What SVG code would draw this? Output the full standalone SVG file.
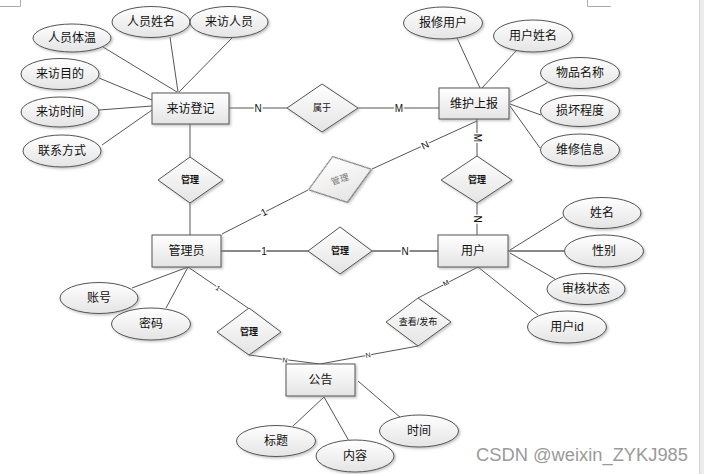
<svg xmlns="http://www.w3.org/2000/svg" width="704" height="474" viewBox="0 0 704 474">
<defs>
<linearGradient id="g" x1="0" y1="0" x2="0" y2="1">
<stop offset="0" stop-color="#ffffff"/>
<stop offset="1" stop-color="#e4e4e4"/>
</linearGradient>
<filter id="sh" x="-20%" y="-20%" width="150%" height="160%">
<feDropShadow dx="1.5" dy="1.5" stdDeviation="0.8" flood-color="#888" flood-opacity="0.5"/>
</filter>
</defs>
<style>
.n{fill:url(#g);stroke:#555;stroke-width:1;filter:url(#sh)}
.t{font-family:"Liberation Sans","Noto Sans CJK SC",sans-serif;font-size:12px;fill:#111;text-anchor:middle;dominant-baseline:central}
.d{font-family:"Liberation Sans","Noto Sans CJK SC",sans-serif;font-size:9px;font-weight:bold;fill:#111;text-anchor:middle;dominant-baseline:central}
.l{font-family:"Liberation Sans",sans-serif;font-size:10px;fill:#111;text-anchor:middle;dominant-baseline:central}
.s{font-family:"Liberation Sans",sans-serif;font-size:7px;fill:#111;text-anchor:middle;dominant-baseline:central}
.c line{stroke:#555;stroke-width:1}
.c line.k{stroke:#888;stroke-width:1.8}
</style>
<rect width="704" height="474" fill="#fff"/>
<rect x="700" y="0" width="4" height="474" fill="#ececec"/>
<line x1="699.5" y1="0" x2="699.5" y2="474" stroke="#d4d4d4"/>
<path d="M0 6.5H20.5V0M587.5 0V6.5H611" fill="none" stroke="#aaa"/>

<g id="connectors" class="c">
<line x1="103" y1="47" x2="177" y2="92"/>
<line x1="170" y1="37" x2="178" y2="92"/>
<line x1="232" y1="38" x2="179" y2="92"/>
<line x1="99" y1="78" x2="152" y2="100"/>
<line x1="99" y1="110" x2="152" y2="106"/>
<line x1="102" y1="145" x2="152" y2="110"/>
<line x1="229" y1="108" x2="287" y2="108"/>
<line x1="358" y1="108" x2="439" y2="108"/>
<line x1="190" y1="124" x2="190" y2="157"/>
<line x1="457" y1="38" x2="480" y2="88"/>
<line x1="516" y1="51" x2="482" y2="88"/>
<line x1="547" y1="83" x2="510" y2="102"/>
<line x1="541" y1="115" x2="510" y2="104"/>
<line x1="540" y1="148" x2="510" y2="106"/>
<line x1="477" y1="119" x2="477" y2="156"/>
<line x1="477" y1="121" x2="372" y2="169"/>
<line x1="222" y1="234" x2="308" y2="190"/>
<line x1="190" y1="203" x2="190" y2="235"/>
<line class="k" x1="221" y1="251" x2="308" y2="251"/>
<line class="k" x1="372" y1="251" x2="438" y2="251"/>
<line x1="477" y1="203" x2="477" y2="235"/>
<line x1="563" y1="217" x2="510" y2="250"/>
<line class="k" x1="564" y1="251" x2="508" y2="251"/>
<line x1="555" y1="279" x2="510" y2="253"/>
<line x1="538" y1="315" x2="478" y2="267"/>
<line x1="478" y1="267" x2="418" y2="298"/>
<line x1="418" y1="346" x2="320" y2="364"/>
<line x1="132" y1="288" x2="188" y2="267"/>
<line x1="166" y1="308" x2="188" y2="267"/>
<line x1="188" y1="267" x2="248" y2="308"/>
<line x1="249" y1="355" x2="320" y2="364"/>
<line x1="293" y1="426" x2="324" y2="397"/>
<line x1="349" y1="441" x2="324" y2="397"/>
<line x1="401" y1="418" x2="358" y2="381"/>
</g>

<g id="labels">
<text class="l" x="258" y="108" stroke="#fff" stroke-width="3" paint-order="stroke">N</text>
<text class="l" x="399" y="108" stroke="#fff" stroke-width="3" paint-order="stroke">M</text>
<text class="l" x="477" y="138" transform="rotate(90 477 138)" stroke="#fff" stroke-width="3" paint-order="stroke">M</text>
<text class="l" x="425" y="145" transform="rotate(-25 425 145)" stroke="#fff" stroke-width="3" paint-order="stroke">N</text>
<text class="l" x="264" y="212" transform="rotate(-27 264 212)" stroke="#fff" stroke-width="3" paint-order="stroke">1</text>
<text class="l" x="264" y="251" stroke="#fff" stroke-width="3" paint-order="stroke">1</text>
<text class="l" x="405" y="251" stroke="#fff" stroke-width="3" paint-order="stroke">N</text>
<text class="l" x="477" y="219" transform="rotate(90 477 219)" stroke="#fff" stroke-width="3" paint-order="stroke">N</text>
<text class="s" x="218" y="288" transform="rotate(34 218 288)" stroke="#fff" stroke-width="2" paint-order="stroke">1</text>
<text class="s" x="446" y="283" transform="rotate(-27 446 283)" stroke="#fff" stroke-width="2" paint-order="stroke">M</text>
<text class="s" x="368" y="355" transform="rotate(-10 368 355)" stroke="#fff" stroke-width="2" paint-order="stroke">N</text>
<text class="s" x="285" y="360" transform="rotate(7 285 360)" stroke="#fff" stroke-width="2" paint-order="stroke">N</text>
</g>

<g id="laifangdengji"><rect class="n" x="152" y="93" width="77" height="31"/><text class="t" x="190.5" y="108.5">来访登记</text></g>
<g id="renyuantiwen"><ellipse class="n" cx="72" cy="38" rx="39" ry="14"/><text class="t" x="72" y="38">人员体温</text></g>
<g id="renyuanxingming"><ellipse class="n" cx="151" cy="22" rx="39" ry="15.5"/><text class="t" x="151" y="22">人员姓名</text></g>
<g id="laifangrenyuan"><ellipse class="n" cx="229" cy="22" rx="39" ry="15.5"/><text class="t" x="229" y="22">来访人员</text></g>
<g id="laifangmudi"><ellipse class="n" cx="60" cy="74" rx="39" ry="15.5"/><text class="t" x="60" y="74">来访目的</text></g>
<g id="laifangshijian"><ellipse class="n" cx="60" cy="112" rx="39" ry="15"/><text class="t" x="60" y="112">来访时间</text></g>
<g id="lianxifangshi"><ellipse class="n" cx="62" cy="151" rx="39" ry="16"/><text class="t" x="62" y="151">联系方式</text></g>

<g id="shuyu"><polygon class="n" points="322,84 358,108 322,132 287,108"/><text class="d" x="322" y="108" style="font-weight:normal">属于</text></g>

<g id="weihushangbao"><rect class="n" x="439" y="88" width="70" height="31"/><text class="t" x="474" y="103.5">维护上报</text></g>
<g id="baoxiuyonghu"><ellipse class="n" cx="443" cy="23" rx="39.5" ry="16"/><text class="t" x="443" y="23">报修用户</text></g>
<g id="yonghuxingming"><ellipse class="n" cx="533" cy="36" rx="39.5" ry="16"/><text class="t" x="533" y="36">用户姓名</text></g>
<g id="wupinmingcheng"><ellipse class="n" cx="580" cy="73" rx="39.5" ry="15.5"/><text class="t" x="580" y="73">物品名称</text></g>
<g id="sunhuaichengdu"><ellipse class="n" cx="580" cy="111" rx="39.5" ry="15.5"/><text class="t" x="580" y="111">损坏程度</text></g>
<g id="weixiuxinxi"><ellipse class="n" cx="580" cy="150" rx="39.5" ry="16"/><text class="t" x="580" y="150">维修信息</text></g>

<g id="guanli1"><polygon class="n" points="190,157 223,180 190,203 158,180"/><text class="d" x="190" y="180">管理</text></g>
<g id="guanli2" transform="rotate(-18 340 179.5)"><polygon class="n" points="340,155.5 373,179.5 340,203.5 307,179.5" style="stroke:#444"/><text class="d" x="340" y="179.5" style="fill:#777;font-weight:normal">管理</text></g>
<g id="guanli3"><polygon class="n" points="477,156 512,180 477,203 441,180"/><text class="d" x="477" y="180">管理</text></g>

<g id="guanliyuan"><rect class="n" x="152" y="235" width="69" height="32"/><text class="t" x="186.5" y="251">管理员</text></g>
<g id="guanli4"><polygon class="n" points="340,227 372,251 340,274 308,251"/><text class="d" x="340" y="251">管理</text></g>
<g id="yonghu"><rect class="n" x="438" y="235" width="70" height="32"/><text class="t" x="473" y="251">用户</text></g>

<g id="xingming"><ellipse class="n" cx="602" cy="213" rx="39" ry="15.5"/><text class="t" x="602" y="213">姓名</text></g>
<g id="xingbie"><ellipse class="n" cx="604" cy="251" rx="39.5" ry="16"/><text class="t" x="604" y="251">性别</text></g>
<g id="shenhezhuangtai"><ellipse class="n" cx="586" cy="289" rx="39" ry="15.5"/><text class="t" x="586" y="289">审核状态</text></g>
<g id="yonghuid"><ellipse class="n" cx="567" cy="327" rx="39.5" ry="16"/><text class="t" x="567" y="327">用户id</text></g>

<g id="zhanghao"><ellipse class="n" cx="99" cy="298" rx="39" ry="15.5"/><text class="t" x="99" y="298">账号</text></g>
<g id="mima"><ellipse class="n" cx="151" cy="324" rx="39.5" ry="16"/><text class="t" x="151" y="324">密码</text></g>

<g id="guanli5"><polygon class="n" points="249,308 281,332 249,355 217,332"/><text class="d" x="249" y="332">管理</text></g>
<g id="chakanfabu"><polygon class="n" points="418,298 451,322 418,346 386,322"/><text class="d" x="418" y="322" style="font-weight:normal">查看/发布</text></g>

<g id="gonggao"><rect class="n" x="286" y="364" width="69" height="32"/><text class="t" x="320.5" y="380">公告</text></g>
<g id="biaoti"><ellipse class="n" cx="276" cy="441" rx="39.5" ry="15.5"/><text class="t" x="276" y="441">标题</text></g>
<g id="neirong"><ellipse class="n" cx="355" cy="456" rx="39" ry="16"/><text class="t" x="355" y="456">内容</text></g>
<g id="shijian"><ellipse class="n" cx="419" cy="431" rx="39.5" ry="16"/><text class="t" x="419" y="431">时间</text></g>

<text x="476" y="461" font-family="Liberation Sans, sans-serif" font-size="17.5" fill="#9a9a9a" textLength="212" lengthAdjust="spacingAndGlyphs">CSDN @weixin_ZYKJ985</text>
</svg>
